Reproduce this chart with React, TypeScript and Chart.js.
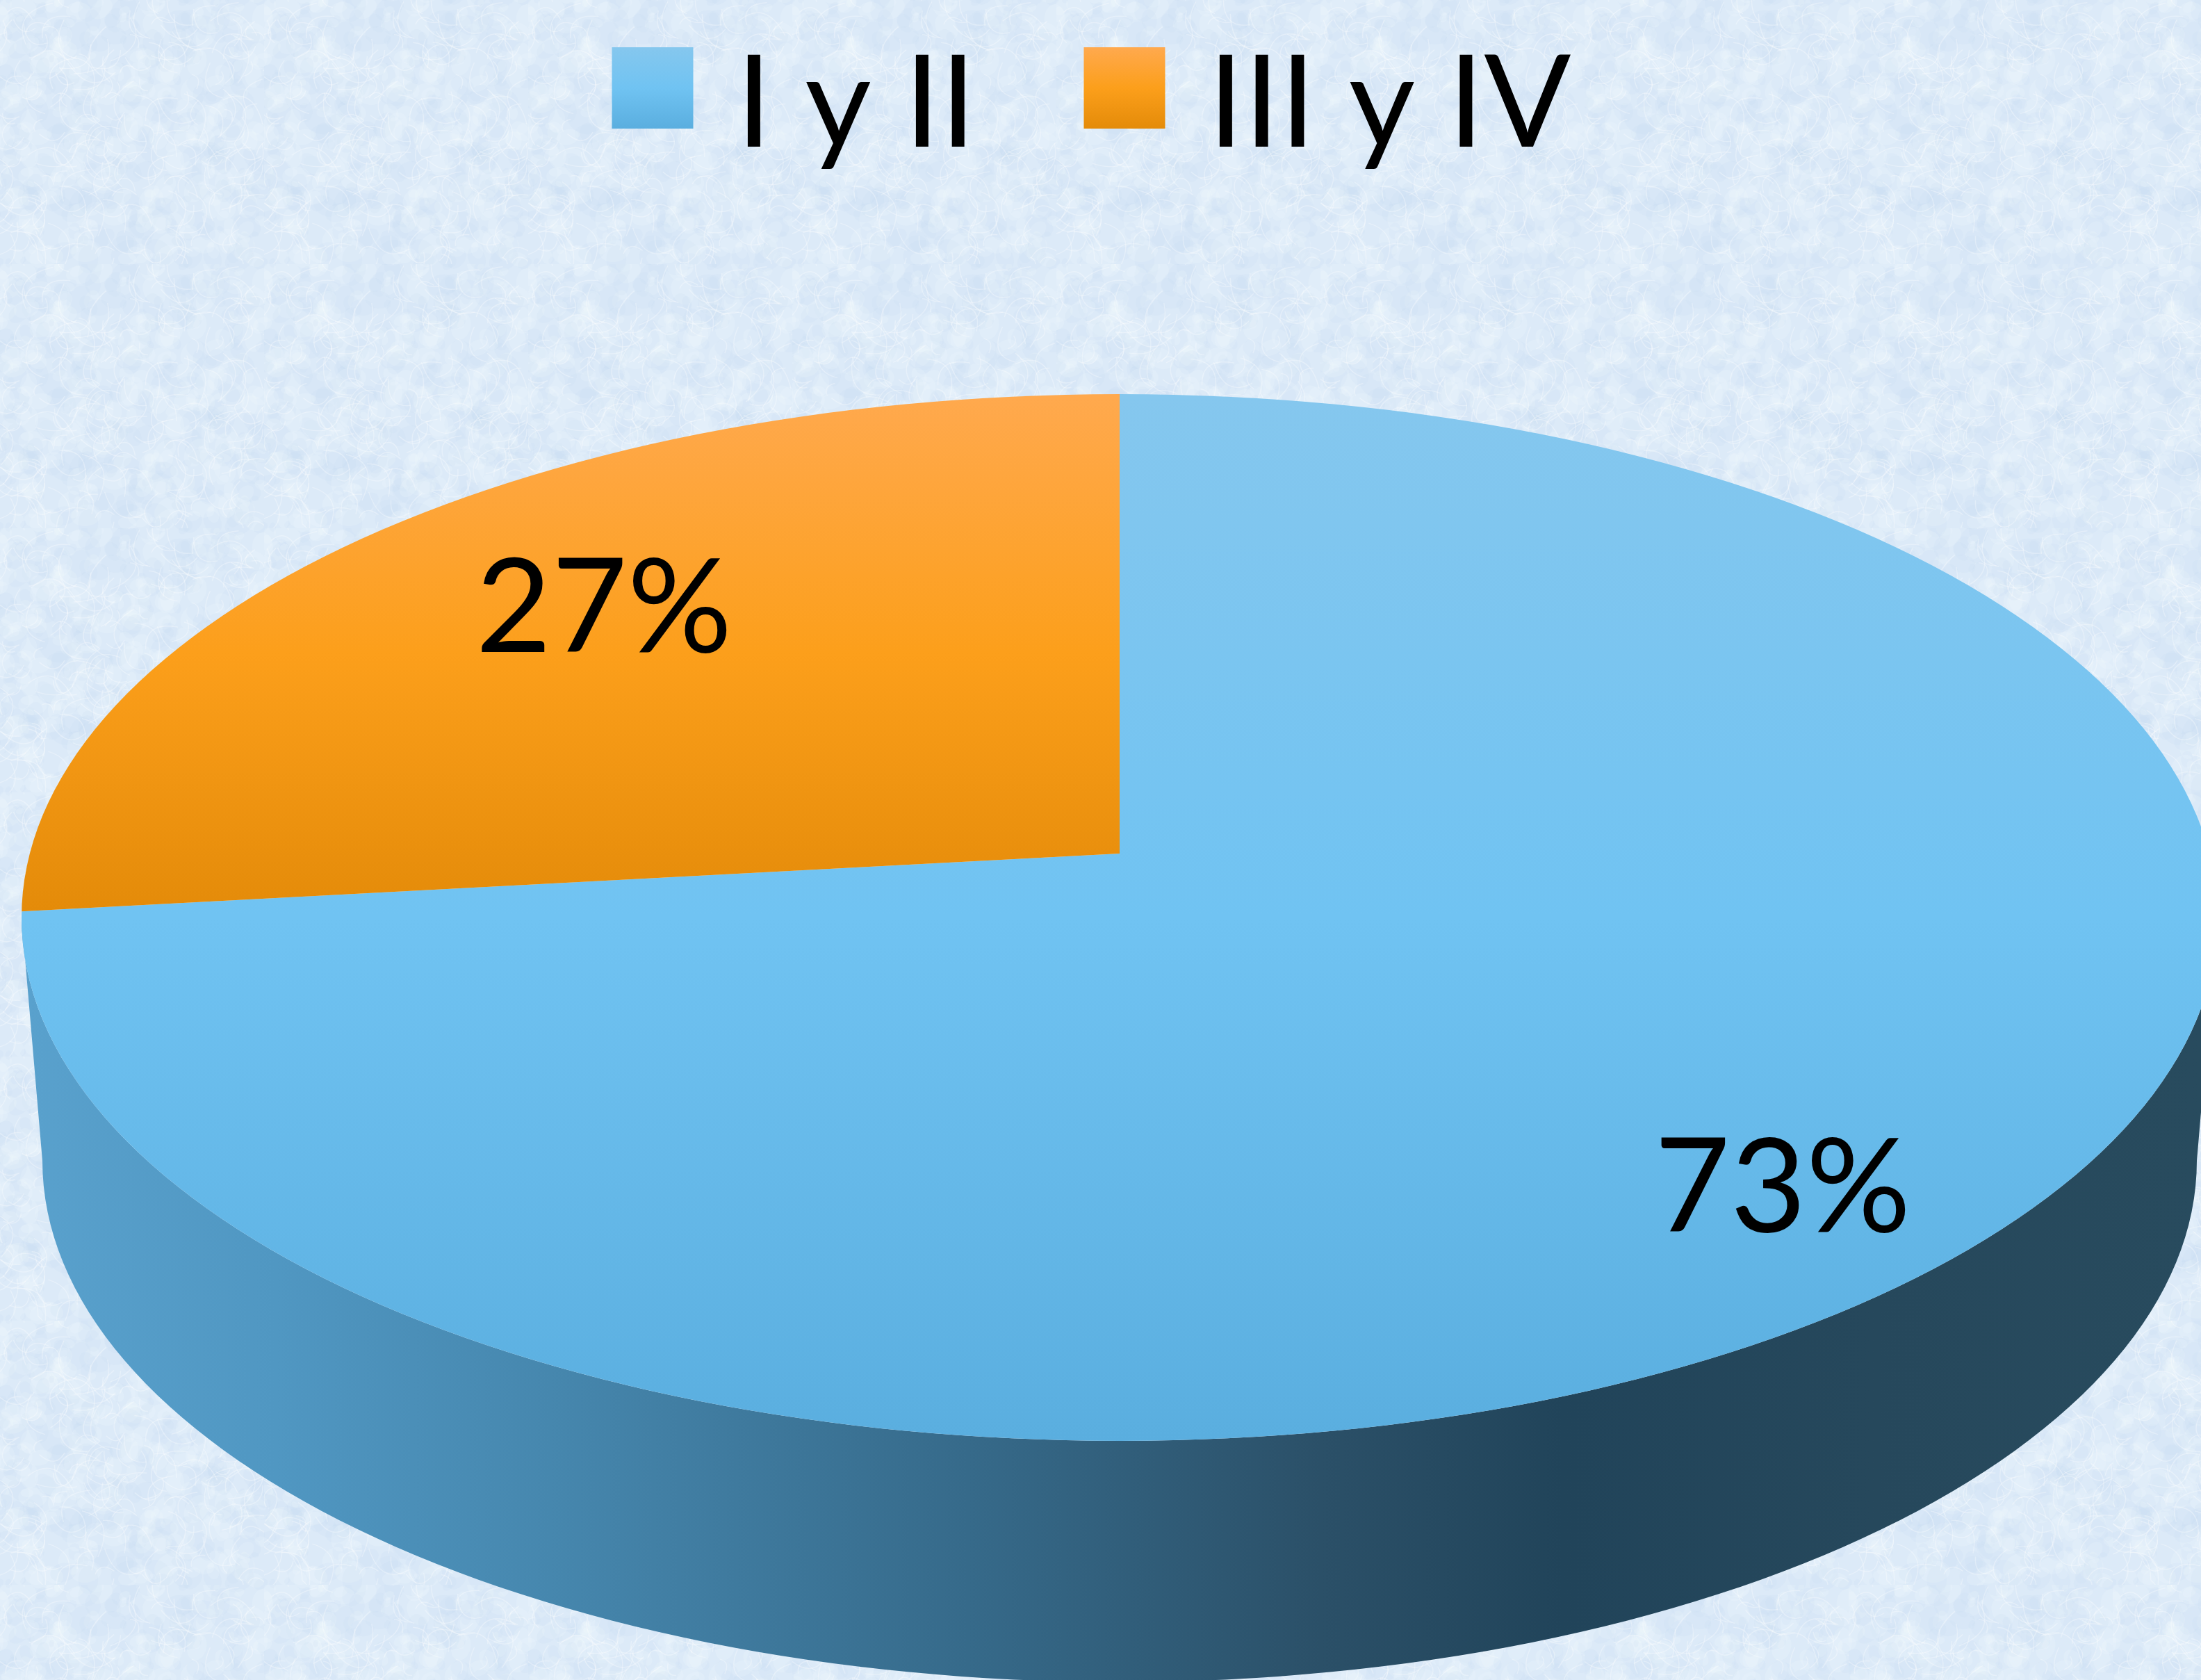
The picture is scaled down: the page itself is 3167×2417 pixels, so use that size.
import React, { useEffect, useRef } from "react";
import { Chart, registerables } from "chart.js";

Chart.register(...registerables);

const categories = ["I y II", "III y IV"];
const shares = [73, 27];
const baseColors = ["#70C3F2", "#FC9F1B"];
const blueStops = ["#85C7EE", "#70C3F2", "#5AAEDF"];
const orangeStops = ["#FFA94E", "#FC9F1B", "#E48B09"];
const wallStops: [number, string][] = [
  [0, "#5AA2CE"], [0.126, "#5097C2"], [0.25, "#4687AE"], [0.44, "#366A8A"],
  [0.6, "#2B5068"], [0.71, "#21445A"], [0.85, "#26485C"], [1, "#284B5E"],
];

const W = 3167;
const H = 2417;
const FONT = "Lato";
const LEGEND_SIZE = 185;
const LABEL_SIZE = 188;

// Geometry of the perspective disc
const TOP = { cx: 1611, cy: 1320, rx: 1580, ry: 753 };
const BOTTOM = { cx: 1611, cy: 1670, rx: 1550, ry: 750 };
const APEX = { x: 1611, y: 1228 };
const WARP = { sx: 2300, sy: 960 };
const SLICE_BANDS = [[567, 2074], [567, 1311]];
const LABEL_AT = [[2565, 1711], [869, 877]];

function hash(x: number, y: number) {
  const s = Math.sin(x * 127.1 + y * 311.7) * 43758.5453;
  return s - Math.floor(s);
}

function textureTile() {
  const size = 380;
  const tile = document.createElement("canvas");
  tile.width = tile.height = size;
  const c = tile.getContext("2d")!;
  c.fillStyle = "#DCEAF8";
  c.fillRect(0, 0, size, size);
  for (let i = 0; i < 520; i++) {
    const x = hash(i, 1) * size, y = hash(i, 2) * size, r = 5 + hash(i, 3) * 18;
    const blue = hash(i, 4) > 0.5;
    c.fillStyle = blue ? "rgba(190,216,242,0.13)" : "rgba(250,252,255,0.15)";
    for (const [ox, oy] of [[0, 0], [-size, 0], [0, -size], [-size, -size]]) {
      c.beginPath();
      c.ellipse(x + ox, y + oy, r, r * 0.7, hash(i, 5) * 3, 0, Math.PI * 2);
      c.fill();
    }
  }
  c.lineWidth = 1.5;
  c.strokeStyle = "rgba(255,255,255,0.3)";
  for (let i = 0; i < 240; i++) {
    const x = hash(i, 6) * size, y = hash(i, 7) * size, a = hash(i, 8) * 6.28, l = 14 + hash(i, 9) * 38;
    c.beginPath();
    c.moveTo(x, y);
    c.quadraticCurveTo(x + Math.cos(a) * l, y + Math.sin(a) * l, x + Math.cos(a + 1) * l * 1.4, y + Math.sin(a + 1) * l * 1.4);
    c.stroke();
  }
  return tile;
}

function band(ctx: CanvasRenderingContext2D, y0: number, y1: number, stops: string[]) {
  const g = ctx.createLinearGradient(0, y0, 0, y1);
  stops.forEach((s, i) => g.addColorStop(i / (stops.length - 1), s));
  return g;
}

const piePerspective = {
  id: "piePerspective",
  beforeDraw(chart: any) {
    const ctx = chart.ctx;
    ctx.save();
    ctx.fillStyle = ctx.createPattern(textureTile(), "repeat");
    ctx.fillRect(0, 0, W, H);
    ctx.restore();
  },
  beforeDatasetDraw(chart: any, args: any) {
    const ctx = chart.ctx;
    const arcs = chart.getDatasetMeta(args.index).data;

    // side wall
    ctx.save();
    const wall = ctx.createLinearGradient(0, 0, W, 0);
    wallStops.forEach(([o, c]) => wall.addColorStop(o, c));
    ctx.fillStyle = wall;
    ctx.beginPath();
    ctx.ellipse(TOP.cx, TOP.cy, TOP.rx, TOP.ry, 0, Math.PI, 0, true);
    ctx.lineTo(BOTTOM.cx + BOTTOM.rx, BOTTOM.cy);
    ctx.ellipse(BOTTOM.cx, BOTTOM.cy, BOTTOM.rx, BOTTOM.ry, 0, 0, Math.PI, false);
    ctx.closePath();
    ctx.fill();
    ctx.restore();

    // top face: the library's arcs, stretched about the apex and trimmed to the disc
    arcs.forEach((arc: any, i: number) => {
      const R = arc.outerRadius;
      const ky = WARP.sy / R;
      const [y0, y1] = SLICE_BANDS[i];
      const toSource = (Y: number) => arc.y + (Y - APEX.y) / ky;
      const saved = arc.options;
      arc.options = Object.assign({}, saved, {
        backgroundColor: band(ctx, toSource(y0), toSource(y1), i === 0 ? blueStops : orangeStops),
      });
      ctx.save();
      ctx.beginPath();
      ctx.ellipse(TOP.cx, TOP.cy, TOP.rx, TOP.ry, 0, 0, Math.PI * 2);
      ctx.clip();
      ctx.translate(APEX.x, APEX.y);
      ctx.scale(WARP.sx / R, ky);
      ctx.translate(-arc.x, -arc.y);
      arc.draw(ctx);
      ctx.restore();
      arc.options = saved;
    });
    return false;
  },
  afterDatasetsDraw(chart: any) {
    const ctx = chart.ctx;
    const values = chart.data.datasets[0].data;
    ctx.save();
    ctx.fillStyle = "#000";
    ctx.font = `${LABEL_SIZE}px ${FONT}`;
    ctx.textAlign = "center";
    ctx.textBaseline = "middle";
    values.forEach((v: number, i: number) => {
      ctx.fillText(`${v}%`, LABEL_AT[i][0], LABEL_AT[i][1]);
    });
    ctx.restore();
  },
  afterDraw(chart: any) {
    const ctx = chart.ctx;
    chart.legend.legendHitBoxes.forEach((box: any, i: number) => {
      const y0 = 68, size = 117;
      ctx.fillStyle = band(ctx, y0, y0 + size, i === 0 ? blueStops : orangeStops);
      ctx.fillRect(box.left, y0, size, size);
    });
  },
};

export default function App() {
  const ref = useRef<HTMLCanvasElement>(null);
  useEffect(() => {
    document.body.style.margin = "0";
    document.documentElement.style.overflow = "hidden";
    const chart = new Chart(ref.current!, {
      type: "pie",
      data: {
        labels: categories,
        datasets: [{ data: shares, backgroundColor: baseColors, borderWidth: 0 }],
      },
      options: {
        responsive: false,
        animation: false,
        devicePixelRatio: 1,
        layout: { padding: { top: -96.5, right: 26 } },
        plugins: {
          tooltip: { enabled: false },
          legend: {
            position: "top",
            labels: {
              boxWidth: 86,
              boxHeight: 80,
              padding: 155,
              color: "#000",
              font: { family: FONT, size: LEGEND_SIZE },
              generateLabels(c: any) {
                return Chart.overrides.pie.plugins.legend.labels.generateLabels(c).map((l: any) => ({
                  ...l,
                  fillStyle: "rgba(0,0,0,0)",
                  strokeStyle: "rgba(0,0,0,0)",
                  lineWidth: 0,
                }));
              },
            },
          },
        },
      } as any,
      plugins: [piePerspective],
    });
    return () => chart.destroy();
  }, []);
  return <canvas ref={ref} width={W} height={H} style={{ display: "block" }} />;
}
